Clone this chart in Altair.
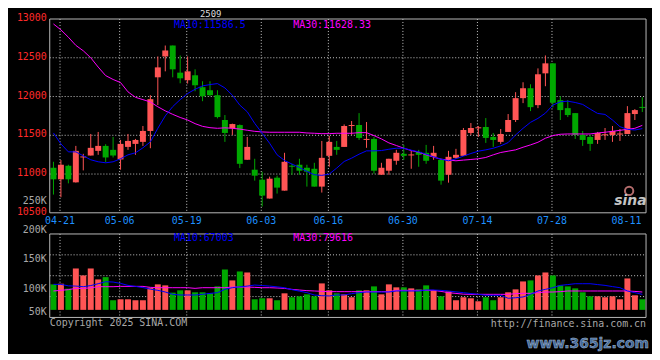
import altair as alt
import pandas as pd

# ---------------- data ----------------
dates = [
    "04-18", "04-21", "04-22", "04-23", "04-24", "04-25", "04-28", "04-29", "04-30",
    "05-06", "05-07", "05-08", "05-09", "05-12", "05-13", "05-14", "05-15", "05-16",
    "05-19", "05-20", "05-21", "05-22", "05-23", "05-26", "05-27", "05-28", "05-29", "05-30",
    "06-03", "06-04", "06-05", "06-06", "06-09", "06-10", "06-11", "06-12", "06-13",
    "06-16", "06-17", "06-18", "06-19", "06-20", "06-23", "06-24", "06-25", "06-26", "06-27",
    "06-30", "07-01", "07-02", "07-03", "07-04", "07-07", "07-08", "07-09", "07-10", "07-11",
    "07-14", "07-15", "07-16", "07-17", "07-18", "07-21", "07-22", "07-23", "07-24", "07-25",
    "07-28", "07-29", "07-30", "07-31", "08-01", "08-04", "08-05", "08-06", "08-07", "08-08",
    "08-11", "08-12", "08-13",
]
opens = [11081, 10932, 11107, 10893, 11214, 11239, 11299, 11363, 11312, 11188,
         11350, 11389, 11415, 11556, 12248, 12517, 12658, 12308, 12210, 12274,
         12120, 12081, 12017, 11697, 11590, 11632, 11184, 11056, 10927, 10684,
         10953, 10786, 11107, 11120, 11081, 11068, 10838, 11235, 11350, 11350,
         11620, 11633, 11440, 11453, 10991, 11043, 11171, 11261, 11240, 11286,
         11274, 11222, 11184, 10991, 11209, 11235, 11530, 11590, 11607, 11479,
         11415, 11543, 11697, 11979, 12107, 11889, 12299, 12428, 11953, 11850,
         11786, 11504, 11479, 11440, 11500, 11504, 11510, 11517, 11774, 11866]
highs = [11158, 11180, 11120, 11363, 11261, 11517, 11543, 11385, 11479, 11440,
         11517, 11453, 11620, 12017, 12517, 12658, 12658, 12530, 12517, 12351,
         12197, 12197, 12081, 11761, 11650, 11640, 11479, 11197, 11030, 10966,
         10979, 11274, 11132, 11197, 11120, 11145, 11427, 11492, 11427, 11640,
         11684, 11786, 11671, 11479, 11145, 11197, 11312, 11376, 11299, 11312,
         11376, 11363, 11197, 11299, 11325, 11594, 11658, 11620, 11722, 11530,
         11581, 11774, 12056, 12184, 12158, 12363, 12530, 12430, 12004, 11953,
         11786, 11556, 11504, 11543, 11594, 11620, 11581, 11876, 11838, 11991]
lows = [10735, 10701, 10880, 10890, 11047, 11239, 11248, 11154, 11214, 11056,
        11312, 11248, 11363, 11333, 11889, 12325, 12248, 12171, 12167, 12068,
        11940, 12004, 11718, 11415, 11504, 11077, 11184, 10915, 10581, 10684,
        10748, 10786, 10990, 10990, 10838, 10838, 10761, 11094, 11248, 11350,
        11504, 11440, 11338, 11004, 10991, 10991, 11120, 11184, 11068, 11094,
        11132, 11184, 10863, 10889, 11197, 11235, 11504, 11479, 11402, 11350,
        11389, 11543, 11671, 11915, 11812, 11850, 12133, 11860, 11697, 11735,
        11453, 11363, 11299, 11389, 11440, 11415, 11427, 11517, 11697, 11800]
closes = [10932, 11120, 10932, 11299, 11227, 11338, 11363, 11214, 11239, 11389,
          11427, 11440, 11556, 11966, 12376, 12594, 12351, 12235, 12325, 12145,
          12004, 12017, 11735, 11530, 11645, 11132, 11350, 10979, 10722, 10940,
          10825, 11158, 11094, 11043, 11030, 10838, 11209, 11415, 11312, 11620,
          11633, 11466, 11453, 11043, 11081, 11197, 11274, 11235, 11253, 11248,
          11171, 11274, 10915, 11222, 11248, 11568, 11594, 11603, 11466, 11440,
          11517, 11697, 11979, 12107, 11863, 12287, 12428, 11920, 11825, 11761,
          11504, 11440, 11389, 11530, 11513, 11556, 11523, 11786, 11825, 11853]
volumes = [100400, 101700, 91900, 131800, 118000, 131800, 110200, 114700, 69000, 70900,
           70900, 69000, 69000, 93800, 100400, 98400, 84000, 88600, 88600, 84700,
           84700, 82700, 96400, 129800, 108200, 125900, 123900, 70900, 72900, 72900,
           69000, 82700, 74900, 76800, 80700, 76800, 102300, 88600, 82700, 80700,
           74900, 88600, 88600, 96400, 80700, 100400, 94500, 94500, 92500, 90500,
           98400, 88600, 76800, 86600, 69000, 74900, 72900, 67000, 74900, 69000,
           74900, 84700, 90500, 106200, 108200, 118000, 123900, 118000, 98400, 96400,
           92500, 84700, 76800, 76800, 74900, 76800, 70900, 112100, 78800, 70900]
ma10 = [11530, 11389, 11286, 11286, 11235, 11184, 11158, 11145, 11158, 11197,
        11248, 11274, 11338, 11415, 11590, 11750, 11870, 11960, 12039, 12094,
        12137, 12154, 12167, 12111, 12017, 11889, 11803, 11654, 11526, 11397,
        11248, 11175, 11128, 11085, 11034, 10991, 10983, 11000, 11077, 11162,
        11205, 11256, 11299, 11299, 11303, 11320, 11333, 11333, 11308, 11286,
        11256, 11222, 11192, 11171, 11197, 11231, 11265, 11295, 11312, 11333,
        11363, 11406, 11504, 11590, 11667, 11718, 11786, 11889, 11932, 11940,
        11923, 11898, 11838, 11782, 11769, 11697, 11611, 11577, 11568, 11586]
ma30 = [12936, 12860, 12765, 12660, 12590, 12500, 12380, 12270, 12220, 12180,
        12060, 11990, 11960, 11930, 11868, 11815, 11770, 11730, 11697, 11650,
        11615, 11598, 11590, 11596, 11590, 11580, 11565, 11551, 11543, 11539,
        11539, 11539, 11539, 11539, 11530, 11526, 11521, 11521, 11526, 11526,
        11526, 11534, 11534, 11496, 11453, 11402, 11368, 11333, 11303, 11282,
        11248, 11218, 11192, 11180, 11171, 11180, 11188, 11197, 11214, 11248,
        11278, 11295, 11312, 11346, 11376, 11410, 11462, 11496, 11513, 11517,
        11517, 11517, 11517, 11530, 11539, 11551, 11564, 11577, 11590, 11628]
vol_ma10 = [100400, 100400, 97500, 97000, 95800, 98000, 101700, 105600, 105000, 102300,
            98400, 96400, 94000, 91000, 88600, 85300, 80700, 79400, 79400, 79400,
            80700, 82500, 84000, 90500, 93800, 95500, 97000, 99000, 98000, 97000,
            95500, 93800, 89900, 87000, 84000, 79400, 78000, 77500, 79400, 79400,
            82000, 84000, 85300, 85300, 85300, 85300, 87300, 87300, 87300, 87300,
            89200, 89200, 88500, 87300, 85500, 84000, 82300, 80700, 78800, 78800,
            78800, 72900, 74000, 75500, 80700, 87300, 90500, 93800, 98400, 100000,
            101700, 101700, 101700, 100000, 98400, 96000, 93800, 87300, 84000, 80700]
vol_ma30 = [87300, 88600, 90000, 92500, 92500, 93500, 95800, 95800, 95800, 96400,
            96400, 96400, 96400, 94500, 93800, 93800, 93800, 93800, 93800, 92500,
            93800, 93800, 93800, 93800, 95100, 95100, 95100, 94500, 93800, 93800,
            93200, 92500, 90500, 89200, 88000, 87300, 86600, 86000, 86000, 86000,
            86000, 86000, 86000, 86000, 86000, 86000, 88600, 88600, 88600, 88600,
            88600, 88600, 86500, 84000, 82500, 81000, 80700, 80700, 80700, 80700,
            80700, 80700, 82000, 82700, 82700, 84000, 85300, 85300, 86000, 87300,
            87300, 87300, 87300, 87300, 87300, 87300, 87300, 87300, 86500, 85300]

label_dates = ["04-21", "05-06", "05-19", "06-03", "06-16", "06-30", "07-14", "07-28", "08-11"]
grid_dates = label_dates[:-1]
price_ticks = [10500, 11000, 11500, 12000, 12500, 13000]
price_domain = [10500, 13000]
vol_domain = [35000, 200000]
vol_base = 50000
vol_ticks = [50000, 100000, 150000, 200000, 250000]
contract = "2509"
ma10_last = "11586.5"
ma30_last = "11628.33"
vol_ma10_last = "67003"
vol_ma30_last = "79616"

# ---------------- styling ----------------
RED = "#ff5555"
GREEN = "#00a800"
BLUE = "#0000ff"
MAGENTA = "#ff00ff"
GRID = "#c8c8c8"
BORDER = "#b8b8b8"
GRAY = "#a8a8a8"
MONO = "DejaVu Sans Mono"
W, H = 600, 300
P_TOP, P_BOT = 0, 195          # price panel pixel range
V_TOP, V_BOT = 216.3, 300.3    # volume panel pixel range
VOL_LABEL_DY = [2, 4, 0, -4, -8]  # nudges of the volume tick labels, in vol_ticks order

df = pd.DataFrame({
    "date": dates, "o": opens, "h": highs, "l": lows, "c": closes,
    "v": volumes, "ma10": ma10, "ma30": ma30, "vma10": vol_ma10, "vma30": vol_ma30,
})
df["lo"] = df[["o", "c"]].min(axis=1)
df["hi"] = df[["o", "c"]].max(axis=1)

xscale = alt.Scale(type="band", domain=dates, paddingInner=0.2, paddingOuter=0.1)
pscale = alt.Scale(domain=price_domain, range=[P_BOT, P_TOP], nice=False, zero=False)
vscale = alt.Scale(domain=vol_domain, range=[V_BOT, V_TOP], nice=False, zero=False)
X = alt.X("date:O", scale=xscale, axis=None)
colr = alt.condition("datum.c >= datum.o", alt.value(RED), alt.value(GREEN))

base = alt.Chart(df)
grid_df = pd.DataFrame({"date": grid_dates})
label_df = pd.DataFrame({"date": label_dates})
one = pd.DataFrame({"k": [0]})


def text_layer(txt, x, y, color, size=10, align="left", font=MONO, weight="normal",
               baseline="middle", **kw):
    return alt.Chart(pd.DataFrame({"t": [txt]})).mark_text(
        align=align, baseline=baseline, font=font, fontSize=size, fontWeight=weight,
        color=color, **kw
    ).encode(text="t:N", x=alt.value(x), y=alt.value(y))


# ---------------- price panel ----------------
p_hgrid = alt.Chart(pd.DataFrame({"g": price_ticks[1:-1]})).mark_rule(
    color=GRID, strokeDash=[1, 2]).encode(
    x=alt.value(0), x2=alt.value(W), y=alt.Y("g:Q", scale=pscale, axis=None))
p_vgrid = alt.Chart(grid_df).mark_rule(color=GRID, strokeDash=[1, 2]).encode(
    x=alt.X("date:O", scale=xscale, axis=None, bandPosition=0.35),
    y=alt.YDatum(price_domain[1], scale=pscale, axis=None),
    y2=alt.Y2Datum(price_domain[0]),
)
wick = base.mark_rule(strokeWidth=1).encode(
    x=X, y=alt.Y("l:Q", scale=pscale, axis=None), y2="h:Q", color=colr)
body = base.mark_bar().encode(
    x=X, y=alt.Y("lo:Q", scale=pscale, axis=None), y2="hi:Q", color=colr)
line30 = base.mark_line(color=MAGENTA, strokeWidth=1).encode(
    x=X, y=alt.Y("ma30:Q", scale=pscale, axis=None))
line10 = base.mark_line(color=BLUE, strokeWidth=1).encode(
    x=X, y=alt.Y("ma10:Q", scale=pscale, axis=None))
p_border = alt.Chart(one).mark_rect(filled=False, stroke=BORDER, strokeWidth=1).encode(
    x=alt.value(0), x2=alt.value(W),
    y=alt.YDatum(price_domain[1], scale=pscale, axis=None),
    y2=alt.Y2Datum(price_domain[0]),
)
p_labels = alt.Chart(pd.DataFrame({"t": price_ticks})).mark_text(
    font=MONO, fontSize=10, color="#ff2a2a", align="right", baseline="middle", dy=-1
).encode(x=alt.value(-3), y=alt.Y("t:Q", scale=pscale, axis=None), text="t:N")
date_labels = alt.Chart(label_df).mark_text(
    font=MONO, fontSize=10, color="#1e90ff", baseline="middle", dy=8
).encode(
    x=alt.X("date:O", scale=xscale, axis=None, bandPosition=0.35),
    y=alt.YDatum(price_domain[0], scale=pscale, axis=None),
    text="date:N",
)

price = alt.layer(
    p_hgrid, p_vgrid, wick, body, line30, line10, p_border, p_labels, date_labels,
    text_layer(contract, 162, -5.5, "#dcdcdc", size=9, align="center"),
    text_layer("MA10:" + ma10_last, 125, 6, BLUE),
    text_layer("MA30:" + ma30_last, 245, 6, MAGENTA),
    alt.Chart(one).mark_point(shape="circle", filled=False, stroke="#ff9a9a",
                              strokeWidth=2, size=70).encode(x=alt.value(583), y=alt.value(173)),
    text_layer("sina", 568, 187, "#c4c4c4", size=14, font="DejaVu Sans", weight="bold",
               baseline="alphabetic", fontStyle="italic"),
)

# ---------------- volume panel ----------------
vgrid_vals = [vol_domain[0] + k * (vol_domain[1] - vol_domain[0]) / 4 for k in (1, 2, 3)]
v_hgrid = alt.Chart(pd.DataFrame({"g": vgrid_vals})).mark_rule(
    color=GRID, strokeDash=[1, 2]).encode(
    x=alt.value(0), x2=alt.value(W), y=alt.Y("g:Q", scale=vscale, axis=None))
v_vgrid = alt.Chart(grid_df).mark_rule(color=GRID, strokeDash=[1, 2]).encode(
    x=alt.X("date:O", scale=xscale, axis=None, bandPosition=0.35),
    y=alt.YDatum(vol_domain[1], scale=vscale, axis=None),
    y2=alt.Y2Datum(vol_domain[0]),
)
vbars = base.mark_bar().encode(
    x=X, y=alt.Y("v:Q", scale=vscale, axis=None), y2=alt.Y2Datum(vol_base), color=colr)
vline30 = base.mark_line(color=MAGENTA, strokeWidth=1).encode(
    x=X, y=alt.Y("vma30:Q", scale=vscale, axis=None))
vline10 = base.mark_line(color=BLUE, strokeWidth=1).encode(
    x=X, y=alt.Y("vma10:Q", scale=vscale, axis=None))
v_border = alt.Chart(one).mark_rect(filled=False, stroke=BORDER, strokeWidth=1).encode(
    x=alt.value(0), x2=alt.value(W),
    y=alt.YDatum(vol_domain[1], scale=vscale, axis=None),
    y2=alt.Y2Datum(vol_domain[0]),
)
v_label_layers = [
    alt.Chart(pd.DataFrame({"t": [v], "s": [f"{v // 1000}K"]})).mark_text(
        font=MONO, fontSize=10, color=GRAY, align="right", baseline="middle", dy=d
    ).encode(x=alt.value(-3), y=alt.Y("t:Q", scale=vscale, axis=None), text="s:N")
    for v, d in zip(vol_ticks, VOL_LABEL_DY)
]

volume = alt.layer(
    v_hgrid, v_vgrid, vbars, vline30, vline10, v_border, *v_label_layers,
    text_layer("MA10:" + vol_ma10_last, 125, 220.5, BLUE),
    text_layer("MA30:" + vol_ma30_last, 245, 220.5, MAGENTA),
    text_layer("Copyright 2025 SINA.COM", 0, 305.5, GRAY),
    text_layer("http://finance.sina.com.cn", W, 306.5, GRAY, align="right"),
    text_layer("www.365jz.com", 603, 327, "#41689a", size=14, font="DejaVu Sans",
               weight="bold", align="right", stroke="#a9bcd0", strokeWidth=0.5),
)

chart = alt.layer(price, volume).resolve_scale(y="independent").properties(
    width=W, height=H,
    autosize=alt.AutoSizeParams(type="none"),
    padding={"left": 42, "top": 10, "right": 6, "bottom": 36},
    background="#000000",
).configure_view(strokeWidth=0)

chart.save("out.html", embed_options={"renderer": "svg", "actions": False})
